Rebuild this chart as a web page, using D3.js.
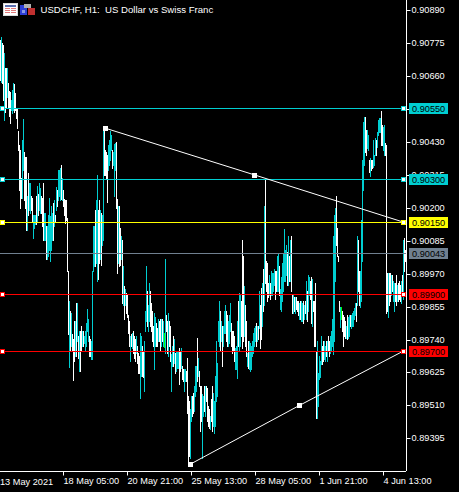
<!DOCTYPE html>
<html><head><meta charset="utf-8">
<script src="https://cdn.jsdelivr.net/npm/d3@7"></script>
<style>html,body{margin:0;padding:0;background:#000;overflow:hidden}
text{font-family:"Liberation Sans",Arial,sans-serif}</style></head>
<body><div id="c"></div>
<script>
const title = "USDCHF, H1:  US Dollar vs Swiss Franc";
// hourly bar highs and lows, in units of 0.00001
const highs = [
90786,90796,90775,90768,90740,90688,90688,90688,90636,90608,
90604,90576,90611,90636,90632,90600,90548,90548,90468,90418,
90401,90303,90436,90510,90394,90376,90376,90243,90320,90286,
90286,90243,90236,90174,90174,90174,90243,90278,90250,90286,
90268,90243,90236,90286,90181,90181,90138,90138,90174,90236,
90170,90208,90181,90216,90226,90174,90272,90261,90331,90331,
90338,90348,90303,90261,90230,90226,90226,90163,89981,89876,
89841,89834,89760,89743,89806,89806,89869,89866,89753,89771,
89771,89788,89771,89771,89753,89771,89799,89848,89813,89753,
89743,89736,89981,90135,90135,90191,90226,90313,90191,90226,
90191,90181,90174,90471,90468,90401,90394,90383,90418,90436,
90468,90454,90401,90394,90422,90426,90429,90230,90208,90208,
90128,90100,90086,89998,89928,89918,89904,89894,89824,89806,
89753,89760,89764,89771,89753,89743,89753,89718,89694,89683,
89764,89753,89718,89701,89736,89841,89998,89911,89859,89939,
89911,89866,89841,89788,89831,89820,89799,89781,89813,89806,
89813,89813,89813,89806,89764,90023,89824,89806,89834,89806,
89788,89691,89718,89753,89743,89694,89701,89701,89701,89711,
89701,89711,89648,89638,89638,89638,89631,89676,89543,89526,
89498,89543,89543,89554,89578,89648,89648,89746,89676,89631,
89578,89578,89550,89543,89578,89578,89578,89571,89508,89498,
89474,89533,89578,89554,89526,89614,89736,89659,89806,89876,
89841,89806,89788,89788,89841,89859,89841,89824,89806,89824,
89869,89799,89771,89771,89753,89711,89718,89806,89876,89901,
89894,89876,90086,90033,89928,89859,89806,89694,89736,89736,
89729,89718,89736,89764,89781,89788,89796,89788,89788,89911,
89859,89921,89939,89988,90205,90296,90016,90009,89939,89964,
89936,89981,89974,89974,89988,89981,89981,90033,90041,89998,
89918,89957,90009,90041,90125,90051,90069,90044,90100,90033,
90086,90100,89894,89894,89890,89887,89890,89876,89876,89866,
89876,89876,89866,89876,89859,89876,89946,89911,89964,89957,
89946,89957,89953,89876,89876,89936,89701,89736,89624,89683,
89666,89753,89718,89736,89736,89718,89736,89736,89753,89736,
89753,89771,89813,90103,90174,90198,90243,90128,90033,89876,
89855,89855,89841,89824,89820,89806,89788,89824,89820,89824,
89824,89824,89831,89841,89851,89866,89869,90103,90086,89981,
89981,90156,90366,90499,90516,90516,90471,90471,90454,90366,
90373,90366,90366,90436,90383,90443,90436,90464,90506,90513,
90513,90538,90489,90482,90489,90426,90418,89971,89971,89974,
89974,89964,89964,89946,89936,89936,89964,89929,89936,89946,
89929,89946,89964,90086,90093,90051];
const lows = [
90646,90639,90636,90576,90506,90534,90548,90587,90548,90520,
90496,90541,90531,90541,90534,90541,90513,90478,90401,90261,
90201,90236,90236,90331,90226,90198,90121,90121,90174,90191,
90181,90191,90149,90093,90128,90142,90142,90149,90174,90191,
90181,90181,90135,90086,90086,90086,90023,90023,90033,90051,
90016,90051,90086,90086,90138,90149,90191,90208,90226,90243,
90226,90230,90226,90208,90174,90146,90156,89981,89760,89645,
89701,89718,89701,89600,89666,89683,89683,89736,89676,89631,
89631,89701,89718,89718,89729,89701,89718,89771,89736,89683,
89683,89673,89673,89981,89998,89998,90009,89946,89950,90009,
90023,90002,90069,90086,90313,90313,90303,90219,90331,90348,
90366,90401,90338,90348,90243,90331,90198,89974,90009,89998,
90002,90023,89869,89859,89813,89859,89834,89820,89764,89718,
89666,89718,89711,89694,89676,89666,89694,89659,89624,89624,
89537,89614,89614,89610,89561,89771,89806,89788,89771,89806,
89788,89771,89736,89718,89638,89718,89718,89718,89736,89736,
89701,89718,89736,89718,89715,89694,89771,89694,89683,89718,
89666,89561,89648,89648,89659,89624,89631,89641,89641,89586,
89631,89641,89603,89596,89561,89596,89596,89484,89298,89333,
89326,89456,89474,89484,89491,89543,89561,89596,89614,89578,
89421,89456,89326,89474,89491,89474,89526,89456,89439,89432,
89428,89456,89421,89439,89414,89439,89526,89543,89736,89718,
89701,89736,89648,89718,89764,89764,89736,89718,89718,89729,
89771,89718,89694,89701,89666,89638,89638,89606,89718,89701,
89718,89753,89711,89736,89753,89718,89683,89648,89641,89638,
89631,89638,89683,89694,89718,89736,89718,89736,89743,89781,
89711,89743,89788,89841,89859,89936,89911,89876,89887,89894,
89883,89894,89894,89911,89929,89883,89911,89911,89911,89894,
89845,89841,89876,89911,89946,89946,89964,89929,89929,89946,
89946,89911,89834,89834,89841,89834,89848,89841,89824,89813,
89813,89806,89806,89799,89813,89834,89813,89806,89841,89894,
89883,89799,89788,89841,89718,89718,89466,89466,89508,89603,
89610,89656,89656,89666,89673,89666,89683,89666,89701,89683,
89694,89701,89718,89691,89736,89946,90069,90033,90016,89841,
89785,89813,89771,89718,89753,89746,89746,89743,89746,89753,
89788,89781,89788,89788,89813,89824,89806,89859,89911,89859,
89855,89876,90016,90261,90348,90394,90383,90408,90401,90324,
90310,90331,90338,90341,90348,90383,90383,90412,90454,90464,
90464,90418,90418,90401,90383,90383,89834,89841,89820,89859,
89876,89894,89911,89876,89841,89876,89859,89876,89876,89883,
89876,89869,89894,89883,89981,90016];
// bar colour per hour: w up, c down, g current highlight
const barKinds =
"wcwwcwwcww"+"wcccwwwwww"+"wwccwwwcwc"+"cwwcccwcwc"+"cwwwccwccc"+
"cccwcwcwcc"+"cwcwwwwwwc"+"wcwwwcwcwc"+"wwcwcccccw"+"wccccwccww"+
"cwccwwwwcc"+"ccwcccwwcw"+"wcwcwcwwww"+"cwcwwwcwww"+"ccwwcccwcc"+
"wwwwccwwcw"+"wcwcgcwwcw"+"wccwcwcccw"+"wcwwccwwww"+"ccwwcccwcw"+
"wwccwcwwww"+"cwwccccccc"+"wcwcccwwcc"+"cwwwwcccwc"+"cwwwcwwcwc"+
"ccccccwcwc"+"wwcwcwwwwc"+"wccccwwccw"+"cccccccwcw"+"cwwcwcwwwc"+
"wccwcwcwcc"+"wwcwwwwccc"+"ccwwccwcww"+"ccccccwwww"+"cgwwwwcwcc"+
"wcccccwcww"+"cccccwwccw"+"cwwcccwccc"+"cwwccwwwcw"+"wcwccwwcww"+"wcwcww";
const barColors = {w:"#ffffff", c:"#00ced1", g:"#00ff00"};
const priceTicks = [0.90890,0.90775,0.90660,0.90545,0.90430,0.90315,0.90200,0.90085,0.89970,0.89855,0.89740,0.89625,0.89510,0.89395];
const timeTickBars = [63,127,191,255,319,383];
const timeTickLabels = ["18 May 05:00","20 May 21:00","25 May 13:00","28 May 05:00","1 Jun 21:00","4 Jun 13:00"];
const firstTimeLabel = "13 May 2021";
const levelPrices = [0.90550,0.90300,0.90150,0.90043,0.89900,0.89700];
const levelColors = ["#00ced1","#00ced1","#ffff00","#708090","#ff0000","#ff0000"];
const levelHandles = [true,true,true,false,true,true];
const trendBars = [[105,254,403],[190,299,403]];
const trendPrices = [[0.90478,0.90315,0.90150],[0.89305,0.89510,0.89700]];

const W=459,H=492,plotR=406,plotB=471;
const svg=d3.select("#c").append("svg").attr("width",W).attr("height",H).style("display","block").style("background","#000");
const x=d3.scaleLinear().domain([0,plotR]).range([0,plotR]);
const y=d3.scaleLinear().domain([0.90890,0.89395]).range([10.3,438.3]);
const py=v=>Math.round(y(v))+0.5;

svg.append("g").selectAll("line").data(highs).join("line")
 .attr("x1",(d,i)=>x(i)+.5).attr("x2",(d,i)=>x(i)+.5)
 .attr("y1",d=>Math.round(y(d/1e5))).attr("y2",(d,i)=>Math.round(y(lows[i]/1e5))+1)
 .attr("stroke",(d,i)=>barColors[barKinds[i]]||"#fff").attr("stroke-width",1);

// price axis
const ya=svg.append("g").attr("transform",`translate(${plotR+.5},0)`)
 .call(d3.axisRight(y).tickValues(priceTicks).tickFormat(d3.format(".5f")).tickSize(4));
ya.select(".domain").attr("stroke","#fff").attr("d",`M0,0V${plotB}`);
ya.selectAll(".tick").attr("transform",d=>`translate(0,${py(d)})`);
ya.selectAll("line").attr("stroke","#fff");
ya.selectAll("text").attr("fill","#fff").attr("x",5).attr("font-size",9.2).attr("font-family","Liberation Sans");

// time axis
const xa=svg.append("g").attr("transform",`translate(0,${plotB+.5})`)
 .call(d3.axisBottom(x).tickValues(timeTickBars).tickFormat((d,i)=>timeTickLabels[i]).tickSize(4));
xa.select(".domain").attr("stroke","#fff").attr("d",`M0,0H${plotR}`);
xa.selectAll("line").attr("stroke","#fff");
xa.selectAll("text").attr("fill","#fff").attr("text-anchor","start").attr("x",0).attr("y",6).attr("font-size",9.2).attr("font-family","Liberation Sans");
svg.append("text").attr("x",0).attr("y",485).attr("fill","#fff").attr("font-size",9.2).text(firstTimeLabel);

// horizontal levels
svg.append("g").selectAll("line").data(levelPrices).join("line")
 .attr("x1",0).attr("x2",plotR).attr("y1",py).attr("y2",py)
 .attr("stroke",(d,i)=>levelColors[i]);

// trend lines
const tl=d3.line().x(d=>x(d[0])+.5).y(d=>y(d[1]));
trendBars.forEach((bars,k)=>{
  const pts=bars.map((b,i)=>[b,trendPrices[k][i]]);
  svg.append("path").attr("d",tl(pts)).attr("fill","none").attr("stroke","#fff").attr("stroke-width",1);
  svg.append("g").selectAll("rect").data(pts.slice(0,2)).join("rect")
   .attr("x",d=>Math.round(x(d[0]))-2).attr("y",d=>Math.round(y(d[1]))-2).attr("width",5).attr("height",5).attr("fill","#fff");
});

// level handles and price tags
levelPrices.forEach((p,i)=>{
  const c=levelColors[i], yy=py(p);
  if(levelHandles[i]) [2.5,403.5].forEach(xx=>{
    svg.append("rect").attr("x",xx-2).attr("y",yy-2).attr("width",4).attr("height",4).attr("fill","#fff").attr("stroke",c);
  });
  svg.append("rect").attr("x",409).attr("y",yy-5.5).attr("width",39).attr("height",11).attr("fill",c);
  svg.append("text").attr("x",412).attr("y",yy+3.5).attr("fill","#000").attr("font-size",9.2)
   .text(d3.format(".5f")(p));
});

// title icons
const ic=svg.append("g");
[[3,3,15,13,"#d8d8d8"],[4,4,13,11,"#fff"],[5,5,11,2,"#5a6fb0"],[5,8,5,1,"#e07a7a"],[11,8,5,1,"#e07a7a"],[5,10,5,1,"#e07a7a"],[11,10,5,1,"#e07a7a"],[5,12,5,1,"#e07a7a"],[11,12,5,1,"#e07a7a"],
 [20,5,7,10,"#2e3fd8"],[28,8,7,7,"#c03030"],[24,4,7,4,"#b0b0b0"],[22,10,3,3,"#8a9ae8"]]
 .forEach(r=>ic.append("rect").attr("x",r[0]).attr("y",r[1]).attr("width",r[2]).attr("height",r[3]).attr("fill",r[4]));
svg.append("text").attr("x",40.5).attr("y",13).attr("fill","#fff").attr("font-size",9.6).style("white-space","pre").text(title);
</script></body></html>
